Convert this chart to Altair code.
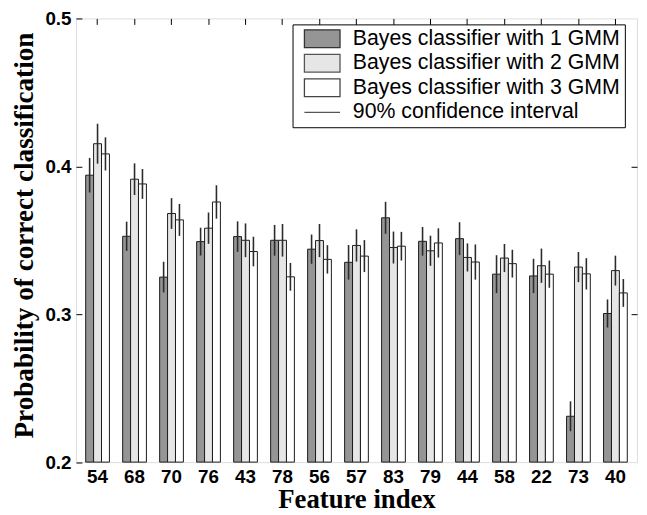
import altair as alt
import pandas as pd

features = ["54", "68", "70", "76", "43", "78", "56", "57", "83", "79", "44", "58", "22", "73", "40"]
series = ["Bayes classifier with 1 GMM", "Bayes classifier with 2 GMM", "Bayes classifier with 3 GMM"]
ci_label = "90% confidence interval"

gmm1 = [0.394, 0.3527, 0.3251, 0.3491, 0.3525, 0.350, 0.344, 0.3351, 0.3652, 0.3493, 0.3511, 0.3271, 0.3259, 0.231, 0.3005]
gmm2 = [0.4153, 0.3913, 0.3681, 0.3582, 0.350, 0.350, 0.3498, 0.3465, 0.3451, 0.3429, 0.3384, 0.338, 0.3328, 0.3319, 0.3295]
gmm3 = [0.4084, 0.3881, 0.3638, 0.3759, 0.3424, 0.3253, 0.3371, 0.3393, 0.346, 0.3482, 0.3353, 0.3342, 0.3271, 0.3273, 0.3144]

ci1 = [0.0117, 0.0099, 0.0104, 0.0094, 0.0103, 0.0104, 0.0099, 0.0117, 0.0108, 0.0097, 0.0111, 0.0128, 0.0116, 0.0101, 0.0095]
ci2 = [0.0135, 0.0107, 0.0104, 0.0106, 0.0114, 0.0110, 0.0112, 0.0109, 0.0108, 0.0102, 0.0095, 0.0095, 0.0116, 0.0102, 0.0101]
ci3 = [0.0112, 0.0101, 0.0108, 0.0113, 0.0100, 0.0094, 0.0096, 0.0108, 0.0097, 0.0099, 0.0119, 0.0094, 0.0092, 0.0106, 0.0094]

fill_colors = ["#959595", "#e6e6e6", "#ffffff", "#444444"]
edge_colors = ["#333333", "#555555", "#444444", "#555555"]

rows = []
for s, vals, cis in zip(series, [gmm1, gmm2, gmm3], [ci1, ci2, ci3]):
    for f, v, c in zip(features, vals, cis):
        rows.append({"feature": f, "series": s, "value": v, "lo": v - c, "hi": v + c})
df = pd.DataFrame(rows)

SANS = "Liberation Sans"
SERIF = "Liberation Serif"

legend_domain = series + [ci_label]
rect_path = "M-1,-0.5H1V0.5H-1Z"
shapes = [rect_path, rect_path, rect_path, "stroke"]

x_scale = alt.Scale(domain=features, paddingInner=0.358, paddingOuter=0.263)
xoff = alt.XOffset("series:N", scale=alt.Scale(domain=series, paddingInner=0, paddingOuter=0))
y_scale = alt.Scale(domain=[0.2, 0.5], zero=False, nice=False)
fill_scale = alt.Scale(domain=legend_domain, range=fill_colors)
shape_scale = alt.Scale(domain=legend_domain, range=shapes)
stroke_scale = alt.Scale(domain=legend_domain, range=edge_colors)

legend = alt.Legend(
    title=None,
    orient="none",
    legendX=219,
    legendY=6,
    labelFont=SANS,
    labelFontSize=21.5,
    labelColor="black",
    labelLimit=500,
    labelOffset=12,
    symbolType=rect_path,
    symbolSize=1296,
    symbolStrokeWidth=1.3,
    symbolOpacity=1,
    symbolOffset=7,
    clipHeight=21,
    rowPadding=2.8,
    padding=4,
    strokeColor="black",
    fillColor="white",
)

bars = alt.Chart(df).mark_bar(stroke="#1a1a1a", strokeWidth=1).encode(
    x=alt.X(
        "feature:N", scale=x_scale, sort=features,
        axis=alt.Axis(
            orient="bottom", title="Feature index", labelAngle=0, ticks=False, tickSize=0,
            domain=False, labelPadding=6, titlePadding=0,
            labelFont=SANS, labelFontSize=19, labelFontWeight="bold", labelColor="black",
            titleFont=SERIF, titleFontSize=27, titleFontWeight="bold", titleColor="black",
        ),
    ),
    xOffset=xoff,
    y=alt.Y(
        "value:Q", scale=y_scale,
        axis=alt.Axis(
            orient="left", values=[0.2, 0.3, 0.4, 0.5], format=".1f", offset=-6, tickSize=6,
            tickColor="black", domain=False, grid=False, labelPadding=5,
            labelFont=SANS, labelFontSize=19, labelFontWeight="bold", labelColor="black",
            title="Probability of correct classification", titleFont=SERIF, titleFontSize=27.5,
            titleFontWeight="bold", titleColor="black", titlePadding=7, titleY=219,
        ),
    ),
    y2=alt.datum(0.2),
    fill=alt.Fill("series:N", scale=fill_scale, legend=legend),
)

rules = alt.Chart(df).mark_rule(color="#2b2b2b", strokeWidth=1.6).encode(
    x=alt.X(
        "feature:N", scale=x_scale, sort=features,
        axis=alt.Axis(orient="top", labels=False, title=None, domain=False, offset=-6, tickSize=6, tickColor="black"),
    ),
    xOffset=xoff,
    y=alt.Y(
        "lo:Q", scale=y_scale,
        axis=alt.Axis(orient="right", labels=False, title=None, domain=False, grid=False, offset=-6,
                      tickSize=6, tickColor="black", values=[0.3, 0.4]),
    ),
    y2="hi:Q",
)

# invisible points that only carry the combined legend (fill + stroke + shape)
keys = alt.Chart(df).mark_point(filled=True, opacity=0, size=1).encode(
    x=alt.X("feature:N", scale=x_scale, sort=features, axis=None),
    xOffset=xoff,
    y=alt.Y("value:Q", scale=y_scale, axis=None),
    fill=alt.Fill("series:N", scale=fill_scale, legend=legend),
    stroke=alt.Stroke("series:N", scale=stroke_scale, legend=legend),
    shape=alt.Shape("series:N", scale=shape_scale, legend=legend),
)

chart = alt.layer(bars, rules, keys).resolve_axis(x="independent", y="independent").properties(
    width=567.3,
    height=448.6,
    autosize=alt.AutoSizeParams(type="none"),
    padding={"left": 68.7, "top": 7.7, "right": 2, "bottom": 60},
).configure_view(stroke="black", strokeWidth=1.3).configure(background="white")

chart.save("out.html", embed_options={"renderer": "svg", "actions": False})
